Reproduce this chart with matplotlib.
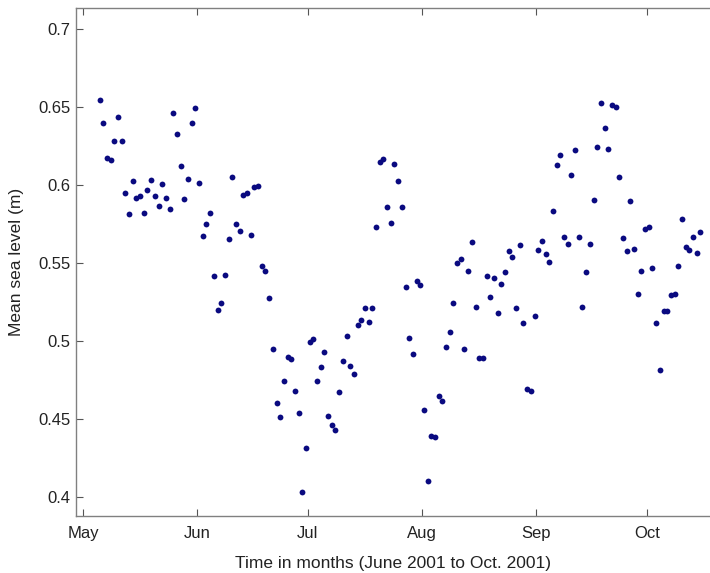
import datetime
import matplotlib
matplotlib.use("Agg")
import matplotlib.pyplot as plt
import matplotlib.dates as mdates
import pandas as pd

# daily mean sea level, one value per day starting 5 May 2001 (plotted at noon)
start_day = "2001-05-05 12:00"
sea_level = [
    0.6545, 0.640, 0.6173, 0.6158, 0.628, 0.6436, 0.628, 0.5947, 0.5812, 0.6028,
    0.5919, 0.5931, 0.5822, 0.5966, 0.6032, 0.593, 0.5865, 0.6008, 0.5917, 0.5844,
    0.6464, 0.6325, 0.612, 0.5912, 0.6037, 0.640, 0.6494, 0.6013, 0.5673, 0.575,
    0.5822, 0.542, 0.5203, 0.5242, 0.5425, 0.5652, 0.605, 0.5752, 0.5705, 0.594,
    0.595, 0.568, 0.5985, 0.5994, 0.548, 0.5453, 0.528, 0.495, 0.4603, 0.4513,
    0.4746, 0.49, 0.4885, 0.4684, 0.4538, 0.4034, 0.4314, 0.4998, 0.5017, 0.4742,
    0.4832, 0.493, 0.4521, 0.4462, 0.4434, 0.4675, 0.4872, 0.5034, 0.484, 0.4793,
    0.5104, 0.5133, 0.521, 0.512, 0.521, 0.5733, 0.6147, 0.6167, 0.5857, 0.5756,
    0.6137, 0.6028, 0.5857, 0.5348, 0.5021, 0.4915, 0.5385, 0.5363, 0.4556, 0.4103,
    0.4391, 0.4387, 0.4647, 0.4617, 0.496, 0.506, 0.5244, 0.5502, 0.5524, 0.4953,
    0.5449, 0.5635, 0.5216, 0.4891, 0.4891, 0.5421, 0.5284, 0.5408, 0.5178, 0.5367,
    0.5444, 0.5581, 0.554, 0.521, 0.5614, 0.5114, 0.4694, 0.4682, 0.5162, 0.5583,
    0.5641, 0.5556, 0.5508, 0.5835, 0.6128, 0.619, 0.5669, 0.5626, 0.6064, 0.6226,
    0.5669, 0.5216, 0.5442, 0.5622, 0.5906, 0.6244, 0.6524, 0.6367, 0.6233, 0.6515,
    0.6498, 0.6049, 0.566, 0.5581, 0.5897, 0.5588, 0.53, 0.5447, 0.572, 0.5735,
    0.5466, 0.5115, 0.4816, 0.5194, 0.5194, 0.5293, 0.5303, 0.5481, 0.5782, 0.5603,
    0.5583, 0.5667, 0.5564, 0.5701,
]
y_ticks = [0.4, 0.45, 0.5, 0.55, 0.6, 0.65, 0.7]

dates = pd.date_range(start_day, periods=len(sea_level), freq="D")

plt.rcParams["font.family"] = ["Liberation Sans", "DejaVu Sans"]
fig = plt.figure(figsize=(7.10, 5.73), dpi=100)
ax = fig.add_axes([0.107, 0.0995, 0.893, 0.8865])

ax.plot(dates, sea_level, "o", color="#0a0a80", markersize=4.2, markeredgewidth=0)

t0 = datetime.datetime(2001, 5, 1)
ax.set_xlim(t0 - datetime.timedelta(days=1.9), t0 + datetime.timedelta(days=170.1))
ax.set_ylim(0.388, 0.7135)
ax.set_yticks(y_ticks)
ax.set_yticklabels([("%g" % v) for v in y_ticks])

ax.xaxis.set_major_locator(mdates.MonthLocator())
ax.xaxis.set_major_formatter(mdates.DateFormatter("%b"))

for s in ax.spines.values():
    s.set_color("#808080")
    s.set_linewidth(1.0)
ax.spines["right"].set_visible(False)  # right edge is cut off in the original
ax.tick_params(direction="in", length=5, color="#555555", labelsize=12,
               labelcolor="#222222", top=True, right=False)
ax.tick_params(axis="x", pad=7)
ax.tick_params(axis="y", pad=4)

ax.set_xlabel("Time in months (June 2001 to Oct. 2001)", fontsize=12.5, color="#222222", labelpad=11)
ax.set_ylabel("Mean sea level (m)", fontsize=12.5, color="#222222", labelpad=10)

fig.savefig("out.png", dpi=100)
